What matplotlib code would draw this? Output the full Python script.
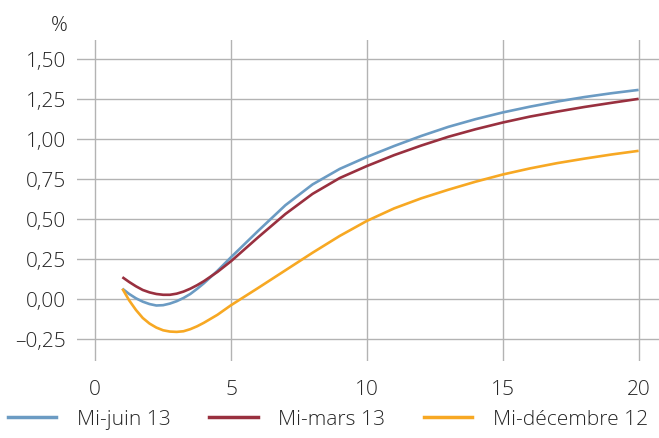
import matplotlib
matplotlib.use("Agg")
import matplotlib.pyplot as plt
from matplotlib.lines import Line2D

# Maturity (years) and yield-curve levels (%)
maturity = [1, 1.25, 1.5, 1.75, 2, 2.25, 2.5, 2.75, 3, 3.25, 3.5, 3.75, 4, 4.5, 5,
            6, 7, 8, 9, 10, 11, 12, 13, 14, 15, 16, 17, 18, 19, 20]
mi_juin_13 = [0.063, 0.03, 0.003, -0.018, -0.033, -0.042, -0.04, -0.03, -0.015, 0.005, 0.03, 0.062, 0.097,
              0.175, 0.26, 0.425, 0.585, 0.715, 0.812, 0.887, 0.955, 1.018, 1.075, 1.123, 1.165, 1.201,
              1.233, 1.261, 1.285, 1.306]
mi_mars_13 = [0.135, 0.105, 0.078, 0.055, 0.04, 0.03, 0.025, 0.025, 0.032, 0.045, 0.063, 0.085, 0.11,
              0.168, 0.235, 0.385, 0.53, 0.656, 0.755, 0.83, 0.898, 0.958, 1.013, 1.06, 1.102, 1.139,
              1.17, 1.199, 1.225, 1.25]
mi_dec_12 = [0.063, -0.01, -0.07, -0.12, -0.155, -0.18, -0.197, -0.205, -0.207, -0.203, -0.19, -0.172,
             -0.15, -0.10, -0.04, 0.068, 0.178, 0.288, 0.393, 0.487, 0.565, 0.628, 0.682, 0.732, 0.777,
             0.815, 0.848, 0.876, 0.902, 0.925]

series_labels = ["Mi-juin 13", "Mi-mars 13", "Mi-décembre 12"]
colors = ["#6b9bc3", "#99303f", "#f7a823"]

x_ticks = [0, 5, 10, 15, 20]
y_ticks = [-0.25, 0.0, 0.25, 0.50, 0.75, 1.00, 1.25, 1.50]

plt.rcParams["font.family"] = ["Open Sans", "DejaVu Sans"]
text_color = "#262626"
grid_color = "#b3b3b3"
fs = 15
fs_leg = 15.1

W, H = 659, 439
fig = plt.figure(figsize=(W / 100, H / 100), dpi=100)
ax = fig.add_axes([77 / W, 1 - 362 / H, (W - 77) / W, (362 - 40.5) / H])

for ys, lab, c in zip([mi_juin_13, mi_mars_13, mi_dec_12], series_labels, colors):
    ax.plot(maturity, ys, color=c, lw=1.9, label=lab, solid_capstyle="butt",
            solid_joinstyle="round", zorder=3)

ax.set_xlim(-0.67, 20.75)
ax.set_ylim(-0.389, 1.621)
ax.set_xticks(x_ticks)
ax.set_yticks(y_ticks)
ax.grid(True, color=grid_color, lw=1.0, zorder=0)
ax.tick_params(length=0, labelleft=False, labelbottom=False)
for s in ax.spines.values():
    s.set_visible(False)

# Tick labels with comma decimals
for v in y_ticks:
    txt = f"{v:.2f}".replace(".", ",").replace("-", "\u2013")
    ax.annotate(txt, xy=(0, v), xycoords=("figure fraction", "data"),
                xytext=(66, 0), textcoords="offset pixels",
                ha="right", va="center_baseline", fontsize=fs, color=text_color, fontweight="light")
for v in x_ticks:
    ax.annotate(str(v), xy=(v, 0), xycoords=("data", "figure fraction"),
                xytext=(0, H - 388), textcoords="offset pixels",
                ha="center", va="center_baseline", fontsize=fs, color=text_color, fontweight="light")
fig.text(59 / W, 1 - 23.5 / H, "%", ha="center", va="center_baseline", fontsize=fs,
         color=text_color, fontweight="light")

handles = [Line2D([], [], color=c, lw=2.5) for c in colors]
leg = fig.legend(handles, series_labels, loc="center left", bbox_to_anchor=(8 / W, 1 - 420 / H),
                 ncol=3, frameon=False, handlelength=2.3, handletextpad=0.98,
                 columnspacing=1.85, borderaxespad=0, borderpad=0,
                 prop={"weight": "light", "size": fs_leg})
for t in leg.get_texts():
    t.set_color(text_color)

fig.savefig("out.png", dpi=100)
